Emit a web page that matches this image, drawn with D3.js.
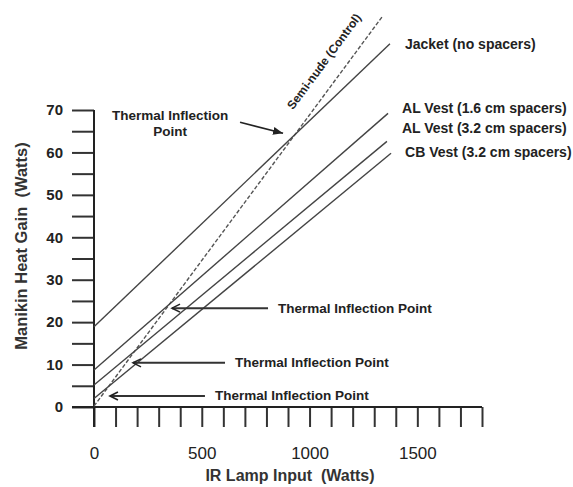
<!DOCTYPE html>
<html>
<head>
<meta charset="utf-8">
<script src="https://cdn.jsdelivr.net/npm/d3@7"></script>
<style>
  body { margin: 0; background: #fff; }
  svg { display: block; font-family: "Liberation Sans", Arial, sans-serif; }
</style>
</head>
<body>
<svg id="chart" width="573" height="487"></svg>
<script>
// straight lines, start and end points (IR lamp W -> heat gain W)
let seriesNames = ["Semi-nude (Control)", "Jacket (no spacers)", "AL Vest (1.6 cm spacers)", "AL Vest (3.2 cm spacers)", "CB Vest (3.2 cm spacers)"];
let startX = [0, 0, 0, 0, 0];
let startY = [0.2, 18.9, 8.7, 5.2, 2.0];
let endX = [1340, 1373, 1364, 1359, 1378];
let endY = [92.2, 85.6, 69.2, 62.6, 59.8];

// where the "Thermal Inflection Point" arrows point
let inflX = [877, 362, 181, 74];
let inflY = [64.5, 23.3, 10.4, 2.6];

let xTickValues = [0, 100, 200, 300, 400, 500, 600, 700, 800, 900, 1000, 1100, 1200, 1300, 1400, 1500, 1600, 1700, 1800];
let xTickLabels = [0, 500, 1000, 1500];
let yTickValues = [0, 5, 10, 15, 20, 25, 30, 35, 40, 45, 50, 55, 60, 65, 70];
let yTickLabels = [0, 10, 20, 30, 40, 50, 60, 70];

let svg = d3.select("#chart");

let x = d3.scaleLinear().domain([0, 1800]).range([94, 482]);
let y = d3.scaleLinear().domain([0, 70]).range([407, 110]);

let defs = svg.append("defs");
defs.append("marker")
    .attr("id", "chev")
    .attr("markerUnits", "userSpaceOnUse")
    .attr("markerWidth", 12).attr("markerHeight", 12)
    .attr("refX", 9).attr("refY", 5)
    .attr("orient", "auto")
    .append("path")
    .attr("d", "M1,1 L9,5 L1,9")
    .attr("fill", "none")
    .attr("stroke", "#222")
    .attr("stroke-width", 1.6);
defs.append("marker")
    .attr("id", "tri")
    .attr("markerUnits", "userSpaceOnUse")
    .attr("markerWidth", 12).attr("markerHeight", 12)
    .attr("refX", 10).attr("refY", 5)
    .attr("orient", "auto")
    .append("path")
    .attr("d", "M0,1 L10,5 L0,9 Z")
    .attr("fill", "#222");

// x axis
let xAxis = svg.append("g")
    .attr("transform", "translate(0," + y(0) + ")")
    .call(d3.axisBottom(x)
        .tickValues(xTickValues)
        .tickSize(20)
        .tickSizeOuter(0)
        .tickPadding(20)
        .tickFormat(d => xTickLabels.includes(d) ? d : ""));
xAxis.select(".domain").remove();
xAxis.selectAll(".tick line").attr("stroke", "#333").attr("stroke-width", 2);
xAxis.selectAll(".tick text")
    .attr("font-family", "Liberation Sans, Arial, sans-serif")
    .attr("font-size", 17)
    .attr("fill", "#222");

// y axis
let yAxis = svg.append("g")
    .attr("transform", "translate(" + x(0) + ",0)")
    .call(d3.axisLeft(y)
        .tickValues(yTickValues)
        .tickSize(22)
        .tickSizeOuter(0)
        .tickPadding(9)
        .tickFormat(d => yTickLabels.includes(d) ? d : ""));
yAxis.select(".domain").remove();
yAxis.selectAll(".tick line").attr("stroke", "#333").attr("stroke-width", 2);
yAxis.selectAll(".tick text")
    .attr("font-family", "Liberation Sans, Arial, sans-serif")
    .attr("font-size", 15)
    .attr("font-weight", "bold")
    .attr("fill", "#222");

// axis lines
svg.append("line")
    .attr("x1", x(0) - 22).attr("x2", x(1800))
    .attr("y1", y(0)).attr("y2", y(0))
    .attr("stroke", "#222").attr("stroke-width", 2);
svg.append("line")
    .attr("x1", x(0)).attr("x2", x(0))
    .attr("y1", y(70)).attr("y2", y(0) + 20)
    .attr("stroke", "#222").attr("stroke-width", 2);

// the lines
let series = seriesNames.map((name, i) => ({
    name: name,
    x1: startX[i], y1: startY[i], x2: endX[i], y2: endY[i], control: i === 0
}));

svg.append("g")
    .selectAll("line")
    .data(series)
    .enter().append("line")
    .attr("x1", d => x(d.x1))
    .attr("y1", d => y(d.y1))
    .attr("x2", d => x(d.x2))
    .attr("y2", d => y(d.y2))
    .attr("stroke", d => d.control ? "#555" : "#444")
    .attr("stroke-width", 1.4)
    .attr("stroke-dasharray", d => d.control ? "4,2" : null);

// labels at the right end of each line
let labelDx = [0, 15, 14, 15, 14];
let labelDy = [0, 0, -5, -13, -1];
svg.append("g")
    .selectAll("text")
    .data(series.slice(1))
    .enter().append("text")
    .attr("x", (d, i) => x(d.x2) + labelDx[i + 1])
    .attr("y", (d, i) => y(d.y2) + labelDy[i + 1])
    .attr("dominant-baseline", "central")
    .attr("font-size", 14)
    .attr("font-weight", "bold")
    .attr("fill", "#222")
    .text(d => d.name);

// semi-nude label runs along its line
let c = series[0];
let ang = Math.atan2(y(c.y2) - y(c.y1), x(c.x2) - x(c.x1));
let along = 414;
let off = 20;
let cx = x(c.x1) + Math.cos(ang) * along + Math.sin(ang) * off;
let cy = y(c.y1) + Math.sin(ang) * along - Math.cos(ang) * off;
svg.append("text")
    .attr("transform", "translate(" + cx + "," + cy + ") rotate(" + (ang * 180 / Math.PI) + ")")
    .attr("text-anchor", "middle")
    .attr("dominant-baseline", "central")
    .attr("font-size", 12)
    .attr("font-weight", "bold")
    .attr("fill", "#222")
    .text(c.name);

// thermal inflection arrows
let arrowLen = [0, 96, 92, 95];
inflX.forEach((v, i) => {
    let tx = x(v), ty = y(inflY[i]);
    if (i === 0) {
        svg.append("line")
            .attr("x1", tx - 43).attr("y1", ty - 11)
            .attr("x2", tx).attr("y2", ty)
            .attr("stroke", "#222").attr("stroke-width", 1.6)
            .attr("marker-end", "url(#tri)");
        let t = svg.append("text")
            .attr("x", tx - 113).attr("y", ty - 13)
            .attr("text-anchor", "middle")
            .attr("font-size", 13.5)
            .attr("font-weight", "bold")
            .attr("fill", "#222");
        t.append("tspan").attr("x", tx - 113).text("Thermal Inflection");
        t.append("tspan").attr("x", tx - 113).attr("dy", 16).text("Point");
    } else {
        svg.append("line")
            .attr("x1", tx + arrowLen[i]).attr("y1", ty)
            .attr("x2", tx).attr("y2", ty)
            .attr("stroke", "#333").attr("stroke-width", 2)
            .attr("marker-end", "url(#chev)");
        svg.append("text")
            .attr("x", tx + arrowLen[i] + 10)
            .attr("y", ty)
            .attr("dominant-baseline", "central")
            .attr("font-size", 13.5)
            .attr("font-weight", "bold")
            .attr("fill", "#222")
            .text("Thermal Inflection Point");
    }
});

// axis titles
svg.append("text")
    .attr("x", 290).attr("y", 481)
    .attr("text-anchor", "middle")
    .attr("font-size", 16)
    .attr("font-weight", "bold")
    .attr("fill", "#333")
    .style("white-space", "pre")
    .text("IR Lamp Input  (Watts)");
svg.append("text")
    .attr("transform", "translate(27,246) rotate(-90)")
    .attr("text-anchor", "middle")
    .attr("font-size", 16.5)
    .attr("font-weight", "bold")
    .attr("fill", "#333")
    .style("white-space", "pre")
    .text("Manikin Heat Gain  (Watts)");
</script>
</body>
</html>
